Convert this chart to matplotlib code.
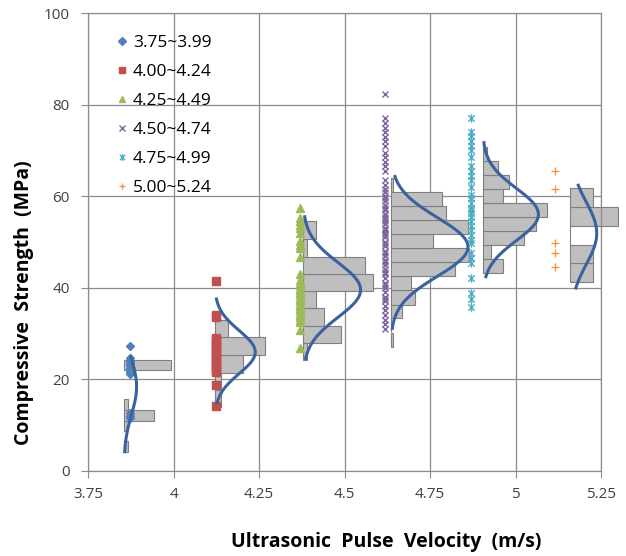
import matplotlib
matplotlib.use("Agg")
import matplotlib.pyplot as plt
import numpy as np
from matplotlib.path import Path

plt.rcParams["font.family"] = ["Open Sans", "DejaVu Sans"]

LABELS = ["3.75~3.99", "4.00~4.24", "4.25~4.49", "4.50~4.74", "4.75~4.99", "5.00~5.24"]
COLORS = ["#4F81BD", "#C0504D", "#9BBB59", "#8064A2", "#4BACC6", "#F79646"]
X_TICKS = [3.75, 4.0, 4.25, 4.5, 4.75, 5.0, 5.25]
X_TICK_LABELS = ["3.75", "4", "4.25", "4.5", "4.75", "5", "5.25"]
Y_TICKS = [0, 20, 40, 60, 80, 100]

# velocity position of each group's specimens
GROUP_X = [3.872, 4.123, 4.371, 4.619, 4.869, 5.115]

# compressive strength of specimens (MPa)
pts_1 = [27.2, 24.5, 24.0, 23.5, 23.0, 22.5, 22.0, 21.5, 21.0, 12.5, 12.0, 11.5]
pts_2 = [41.4, 34.0, 33.5, 29.0, 28.5, 28.0, 27.5, 27.0, 26.5, 26.0, 25.5, 25.0,
         24.5, 24.0, 23.5, 23.0, 22.5, 22.0, 21.5, 18.6, 14.0]
pts_3 = [57.5, 55.2, 54.5, 53.8, 53.0, 51.9, 50.1, 49.3, 48.6, 46.6, 43.0, 41.7,
         41.0, 40.5, 40.0, 39.5, 39.0, 38.5, 38.0, 37.5, 37.0, 36.5, 36.0, 35.5,
         35.0, 34.5, 34.0, 33.5, 33.0, 32.5, 30.7, 26.7]
pts_4 = [82.4, 77.0, 76.0, 75.0, 74.0, 73.0, 72.0, 71.0, 69.5, 68.5, 67.5, 66.5,
         65.5, 63.5, 62.5, 61.5, 61.0, 60.0, 59.5, 59.0, 58.0, 57.5, 57.0, 56.0,
         55.5, 55.0, 54.5, 54.0, 53.0, 52.5, 52.0, 51.5, 51.0, 50.0, 49.5, 49.0,
         48.0, 47.5, 47.0, 46.0, 45.5, 45.0, 44.0, 43.5, 43.0, 42.0, 41.0, 40.5,
         40.0, 39.0, 38.0, 37.5, 37.0, 36.0, 35.0, 34.0, 33.0, 32.0, 31.0]
pts_5 = [77.1, 74.0, 73.1, 72.0, 71.0, 70.2, 68.5, 66.6, 65.5, 64.5, 63.6, 62.0,
         60.3, 59.5, 58.5, 57.5, 57.0, 56.4, 55.5, 54.5, 53.5, 52.5, 51.5, 50.5,
         49.8, 47.6, 46.5, 45.4, 42.2, 38.8, 37.5, 35.7]
pts_6 = [65.6, 61.5, 49.7, 47.5, 44.6]
POINTS = [pts_1, pts_2, pts_3, pts_4, pts_5, pts_6]

# histogram bars: left edge on the velocity axis, bin height, bin bottoms, bar lengths
BAR_BASE = [3.855, 4.120, 4.379, 4.635, 4.904, 5.160]
BIN_H = [2.35, 3.8, 3.78, 3.08, 3.06, 4.08]
bins_1 = [4.1, 8.6, 10.9, 13.2, 21.9]
len_1 = [0.0125, 0.0125, 0.088, 0.0125, 0.137]
bins_2 = [13.9, 17.6, 21.4, 25.3, 29.1]
len_2 = [0.018, 0.019, 0.082, 0.148, 0.038]
bins_3 = [24.1, 27.9, 31.7, 35.5, 39.3, 43.0, 46.8, 50.7]
len_3 = [0.0125, 0.110, 0.061, 0.037, 0.204, 0.181, 0.0125, 0.037]
bins_4 = [27.1, 30.2, 33.3, 36.3, 39.4, 42.5, 45.6, 48.7, 51.7, 54.8, 57.9, 61.0]
len_4 = [0.006, 0.0, 0.032, 0.071, 0.058, 0.187, 0.228, 0.124, 0.226, 0.163, 0.149, 0.006]
bins_5 = [43.3, 46.35, 49.4, 52.45, 55.5, 58.6, 61.65, 64.7, 67.75]
len_5 = [0.059, 0.025, 0.122, 0.156, 0.187, 0.059, 0.076, 0.044, 0.0125]
bins_6 = [41.2, 45.3, 49.4, 53.5, 57.6]
len_6 = [0.066, 0.066, 0.0, 0.141, 0.066]
BINS = [bins_1, bins_2, bins_3, bins_4, bins_5, bins_6]
LENS = [len_1, len_2, len_3, len_4, len_5, len_6]

# fitted normal curves (mean, sd in MPa; peak width in velocity units; drawn range)
CURVE_MU = [18.3, 25.9, 39.5, 48.9, 56.0, 51.9]
CURVE_SD = [6.0, 4.7, 6.0, 6.4, 5.7, 6.8]
CURVE_AMP = [0.037, 0.119, 0.168, 0.226, 0.163, 0.0775]
CURVE_LO = [4.1, 14.8, 24.5, 31.1, 42.4, 39.9]
CURVE_HI = [24.9, 37.5, 55.5, 64.3, 71.7, 62.4]

GRID = "#8C8C8C"
star = Path([(-1, -1), (1, 1), (-1, 1), (1, -1), (0, -1.3), (0, 1.3)],
            [Path.MOVETO, Path.LINETO, Path.MOVETO, Path.LINETO, Path.MOVETO, Path.LINETO])
MARKERS = [("D", 4.5), ("s", 5.5), ("^", 5.5), ("x", 5.0), (star, 6.0), ("+", 5.5)]

fig = plt.figure(figsize=(6.26, 5.56), dpi=100)
ax = fig.add_axes([88 / 626, 85.5 / 556, 513 / 626, 457.2 / 556])

for i in range(6):
    ax.barh(BINS[i], LENS[i], height=BIN_H[i], left=BAR_BASE[i], align="edge",
            color="#BFBFBF", edgecolor="#7F7F7F", linewidth=0.8, zorder=2, clip_on=False)

handles = []
for i in range(6):
    m, ms = MARKERS[i]
    h, = ax.plot(np.full(len(POINTS[i]), GROUP_X[i]), POINTS[i], linestyle="none",
                 marker=m, markersize=ms, color=COLORS[i], markeredgewidth=1.0,
                 label=LABELS[i], zorder=3)
    handles.append(h)

for i in range(6):
    yy = np.linspace(CURVE_LO[i], CURVE_HI[i], 100)
    xx = BAR_BASE[i] + CURVE_AMP[i] * np.exp(-(yy - CURVE_MU[i]) ** 2 / (2 * CURVE_SD[i] ** 2))
    ax.plot(xx, yy, color="#3A62A0", linewidth=2.2, zorder=4, clip_on=False)

ax.set_xlim(3.75, 5.25)
ax.set_ylim(0, 100)
ax.set_xticks(X_TICKS)
ax.set_xticklabels(X_TICK_LABELS)
ax.set_yticks(Y_TICKS)
ax.grid(color=GRID, linewidth=0.9, zorder=0)
ax.set_axisbelow(True)
for s in ax.spines.values():
    s.set_color(GRID)
    s.set_linewidth(0.9)
ax.tick_params(axis="both", direction="out", length=5, color=GRID, labelsize=11,
               labelcolor="#404040")
ax.tick_params(axis="x", pad=7)
ax.tick_params(axis="y", pad=8)

leg = ax.legend(handles=handles, loc="upper left", frameon=False, fontsize=12.5,
                bbox_to_anchor=(113 / 626, 1 - 34.5 / 556), bbox_transform=fig.transFigure,
                borderaxespad=0, borderpad=0, handlelength=1.0, handletextpad=0.15,
                labelspacing=0.74, markerscale=0.8)

fig.text(386 / 626, 1 - 542 / 556, "Ultrasonic  Pulse  Velocity  (m/s)", ha="center",
         va="center", fontsize=14, fontweight="bold")
fig.text(24 / 626, 1 - 303 / 556, "Compressive  Strength  (MPa)", ha="center",
         va="center", rotation=90, fontsize=14, fontweight="bold")

fig.savefig("out.png", dpi=100)
